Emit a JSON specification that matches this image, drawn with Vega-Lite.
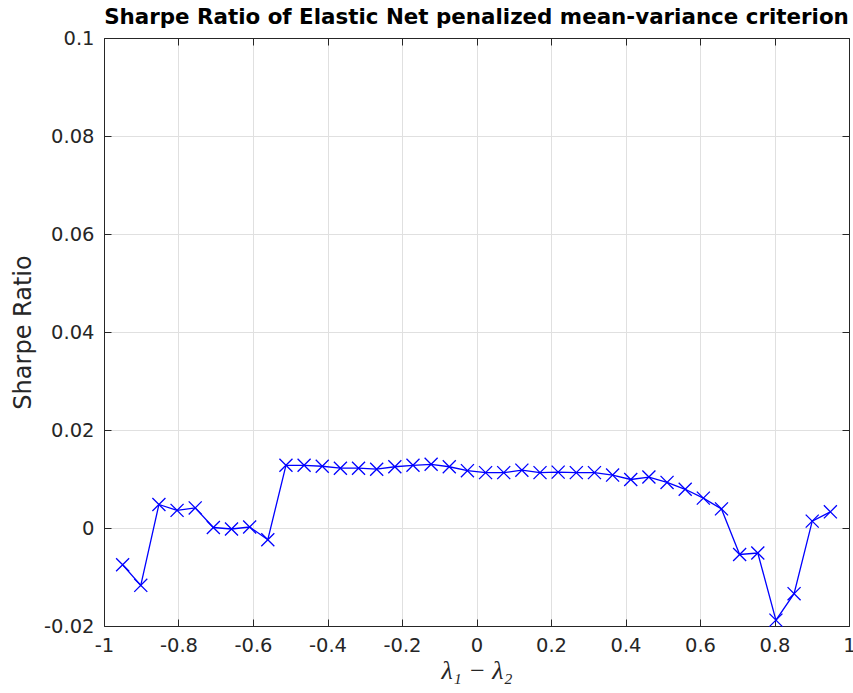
{
  "$schema": "https://vega.github.io/schema/vega-lite/v6.json",
  "autosize": {"type": "none"},
  "padding": {"left": 104, "top": 38, "right": 4, "bottom": 67},
  "width": 745,
  "height": 588,
  "background": "white",
  "title": {
    "text": "Sharpe Ratio of Elastic Net penalized mean-variance criterion",
    "font": "DejaVu Sans",
    "fontSize": 21.4,
    "fontWeight": "bold",
    "color": "#000000",
    "anchor": "middle",
    "offset": 0
  },
  "config": {
    "view": {"stroke": null},
    "axis": {
      "domainColor": "#262626",
      "domainWidth": 1,
      "tickColor": "#262626",
      "tickWidth": 1,
      "tickSize": -7,
      "gridColor": "#e0e0e0",
      "gridWidth": 1,
      "labelFont": "DejaVu Sans",
      "labelFontSize": 19.5,
      "labelColor": "#262626",
      "titleColor": "#262626",
      "titleFontWeight": "normal"
    }
  },
  "data": {
    "values": [
      {"x": -0.95, "y": -0.0075},
      {"x": -0.90128, "y": -0.0117},
      {"x": -0.85256, "y": 0.0048},
      {"x": -0.80385, "y": 0.0036},
      {"x": -0.75513, "y": 0.0041},
      {"x": -0.70641, "y": 0.0001},
      {"x": -0.65769, "y": -0.0002},
      {"x": -0.60897, "y": 0.0002},
      {"x": -0.56026, "y": -0.0024},
      {"x": -0.51154, "y": 0.0128},
      {"x": -0.46282, "y": 0.0128},
      {"x": -0.4141, "y": 0.0126},
      {"x": -0.36538, "y": 0.0122},
      {"x": -0.31667, "y": 0.0122},
      {"x": -0.26795, "y": 0.012},
      {"x": -0.21923, "y": 0.0125},
      {"x": -0.17051, "y": 0.0128},
      {"x": -0.12179, "y": 0.013},
      {"x": -0.07308, "y": 0.0125},
      {"x": -0.02436, "y": 0.0117},
      {"x": 0.02436, "y": 0.0113},
      {"x": 0.07308, "y": 0.0113},
      {"x": 0.12179, "y": 0.0118},
      {"x": 0.17051, "y": 0.0113},
      {"x": 0.21923, "y": 0.0114},
      {"x": 0.26795, "y": 0.0113},
      {"x": 0.31667, "y": 0.0113},
      {"x": 0.36538, "y": 0.0108},
      {"x": 0.4141, "y": 0.0099},
      {"x": 0.46282, "y": 0.0104},
      {"x": 0.51154, "y": 0.0093},
      {"x": 0.56026, "y": 0.0079},
      {"x": 0.60897, "y": 0.0061},
      {"x": 0.65769, "y": 0.0039},
      {"x": 0.70641, "y": -0.0054},
      {"x": 0.75513, "y": -0.0051},
      {"x": 0.80385, "y": -0.0188},
      {"x": 0.85256, "y": -0.0134},
      {"x": 0.90128, "y": 0.0014},
      {"x": 0.95, "y": 0.0033}
    ]
  },
  "layer": [
    {
      "mark": {"type": "line", "color": "#0000ff", "strokeWidth": 1.3},
      "encoding": {
        "x": {
          "field": "x", "type": "quantitative",
          "scale": {"domain": [-1, 1], "nice": false, "zero": false},
          "axis": {
            "orient": "bottom",
            "values": [-1, -0.8, -0.6, -0.4, -0.2, 0, 0.2, 0.4, 0.6, 0.8, 1],
            "labelExpr": "replace(format(datum.value, '~g'), '\u2212', '-')",
            "labelPadding": 17,
            "title": "λ₁ − λ₂",
            "titleFont": "Liberation Serif",
            "titleFontStyle": "italic",
            "titleFontSize": 26,
            "titlePadding": 3,
            "labelFlush": false
          }
        },
        "y": {
          "field": "y", "type": "quantitative",
          "scale": {"domain": [-0.02, 0.1], "nice": false, "zero": false},
          "axis": {
            "orient": "left",
            "values": [-0.02, 0, 0.02, 0.04, 0.06, 0.08, 0.1],
            "labelExpr": "replace(format(datum.value, '~g'), '\u2212', '-')",
            "labelPadding": 17,
            "title": "Sharpe Ratio",
            "titleFont": "DejaVu Sans",
            "titleFontSize": 24,
            "titlePadding": 8,
            "labelFlush": false
          }
        }
      }
    },
    {
      "mark": {"type": "point", "shape": "M-1,-1L1,1M1,-1L-1,1", "filled": false, "color": "#0000ff", "size": 170, "strokeWidth": 1.3, "opacity": 1},
      "encoding": {
        "x": {
          "field": "x", "type": "quantitative",
          "scale": {"domain": [-1, 1], "nice": false, "zero": false},
          "axis": {"orient": "top", "values": [-1, -0.8, -0.6, -0.4, -0.2, 0, 0.2, 0.4, 0.6, 0.8, 1], "labels": false, "title": null, "grid": false}
        },
        "y": {
          "field": "y", "type": "quantitative",
          "scale": {"domain": [-0.02, 0.1], "nice": false, "zero": false},
          "axis": {"orient": "right", "values": [-0.02, 0, 0.02, 0.04, 0.06, 0.08, 0.1], "labels": false, "title": null, "grid": false}
        }
      }
    }
  ],
  "resolve": {"axis": {"x": "independent", "y": "independent"}}
}
